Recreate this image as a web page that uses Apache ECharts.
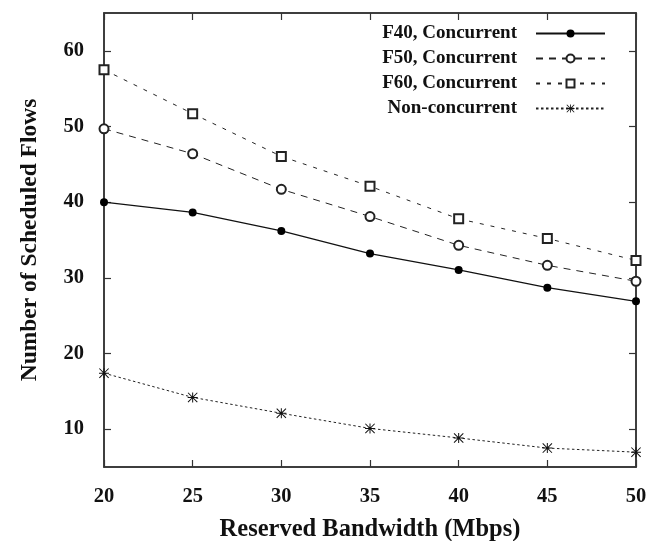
<!DOCTYPE html>
<html>
<head>
<meta charset="utf-8">
<script src="https://cdn.jsdelivr.net/npm/echarts@6/dist/echarts.min.js"></script>
<style>
  html, body { margin: 0; padding: 0; background: #fff; }
  #main { width: 661px; height: 541px; }
</style>
</head>
<body>
<div id="main"></div>
<script>
var bandwidth = [20, 25, 30, 35, 40, 45, 50];
var f40 = [40.0, 38.65, 36.2, 33.2, 31.05, 28.7, 26.9];
var f50 = [49.7, 46.4, 41.7, 38.1, 34.3, 31.65, 29.55];
var f60 = [57.5, 51.7, 46.05, 42.1, 37.8, 35.2, 32.3];
var nonConc = [17.4, 14.2, 12.1, 10.1, 8.84, 7.5, 6.96];
var yTicks = [10, 20, 30, 40, 50, 60];

var chartDom = document.getElementById('main');
var myChart = echarts.init(chartDom);
var option;

var font = 'Liberation Serif';
var asterisk = 'path://M4.5,0L5.5,0L5.5,10L4.5,10Z M0,4.5L10,4.5L10,5.5L0,5.5Z M0.7,0L10,9.3L9.3,10L0,0.7Z M9.3,0L10,0.7L0.7,10L0,9.3Z';

function pairs(ys) {
  return bandwidth.map(function (x, i) { return [x, ys[i]]; });
}

var axisLine = { show: true, lineStyle: { color: '#333', width: 1.5 } };
var tick = { show: true, inside: true, length: 7, lineStyle: { color: '#333', width: 1.2 } };

option = {
  animation: false,
  textStyle: { fontFamily: font },
  grid: {
    left: 104,
    right: 25,
    top: 13,
    bottom: 74,
    outerBoundsMode: 'none',
    show: true,
    borderColor: '#333',
    borderWidth: 1.5
  },
  legend: {
    orient: 'vertical',
    align: 'right',
    right: 50,
    top: 19,
    itemWidth: 69,
    itemHeight: 10,
    itemGap: 6,
    textStyle: { fontFamily: font, fontWeight: 'bold', fontSize: 19, color: '#111', padding: [0, 14, 0, 0] },
    data: ['F40, Concurrent', 'F50, Concurrent', 'F60, Concurrent', 'Non-concurrent']
  },
  xAxis: [
    {
      type: 'value',
      min: 20,
      max: 50,
      interval: 5,
      name: 'Reserved Bandwidth (Mbps)',
      nameLocation: 'middle',
      nameGap: 50,
      nameTextStyle: { fontFamily: font, fontWeight: 'bold', fontSize: 24.5, color: '#111' },
      axisLine: axisLine,
      axisTick: tick,
      axisLabel: { margin: 19, fontFamily: font, fontWeight: 'bold', fontSize: 20.5, color: '#111' },
      splitLine: { show: false }
    },
    {
      type: 'value',
      position: 'top',
      min: 20,
      max: 50,
      interval: 5,
      axisLine: axisLine,
      axisTick: tick,
      axisLabel: { show: false },
      splitLine: { show: false }
    }
  ],
  yAxis: [
    {
      type: 'value',
      min: 5,
      max: 65,
      name: 'Number of Scheduled Flows',
      nameLocation: 'middle',
      nameGap: 62,
      nameTextStyle: { fontFamily: font, fontWeight: 'bold', fontSize: 23.5, color: '#111' },
      axisLine: axisLine,
      axisTick: Object.assign({ customValues: yTicks }, tick),
      axisLabel: { customValues: yTicks, margin: 20, fontFamily: font, fontWeight: 'bold', fontSize: 20.5, color: '#111' },
      splitLine: { show: false }
    },
    {
      type: 'value',
      position: 'right',
      min: 5,
      max: 65,
      axisLine: axisLine,
      axisTick: Object.assign({ customValues: yTicks }, tick),
      axisLabel: { show: false },
      splitLine: { show: false }
    }
  ],
  series: [
    {
      name: 'F40, Concurrent',
      type: 'line',
      data: pairs(f40),
      symbol: 'circle',
      symbolSize: 8,
      itemStyle: { color: '#000' },
      lineStyle: { color: '#111', width: 1.2, type: 'solid' }
    },
    {
      name: 'F50, Concurrent',
      type: 'line',
      data: pairs(f50),
      symbol: 'emptyCircle',
      symbolSize: 9,
      itemStyle: { color: '#222', borderWidth: 1 },
      lineStyle: { color: '#222', width: 1, type: [7, 6] }
    },
    {
      name: 'F60, Concurrent',
      type: 'line',
      data: pairs(f60),
      symbol: 'emptyRect',
      symbolSize: 9,
      itemStyle: { color: '#222', borderWidth: 1 },
      lineStyle: { color: '#222', width: 1, type: [4, 7] }
    },
    {
      name: 'Non-concurrent',
      type: 'line',
      data: pairs(nonConc),
      symbol: asterisk,
      symbolSize: 10,
      itemStyle: { color: '#111' },
      lineStyle: { color: '#222', width: 1, type: [2.5, 2.5] }
    }
  ]
};

option && myChart.setOption(option);
</script>
</body>
</html>
